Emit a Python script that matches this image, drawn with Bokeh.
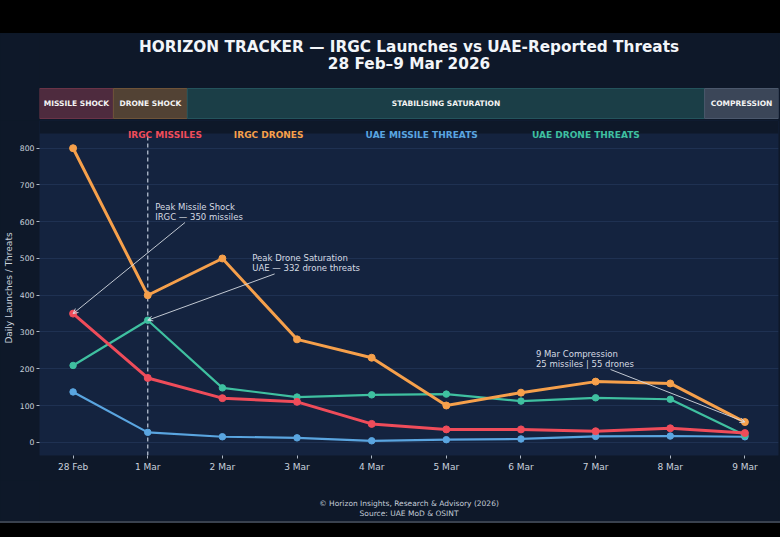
from bokeh.plotting import figure
from bokeh.models import Range1d, FixedTicker, Label, Arrow, OpenHead, Spacer, ColumnDataSource, BoxAnnotation
from bokeh.layouts import column
from bokeh.embed import file_html
from bokeh.resources import INLINE
from bokeh.core.properties import value

# ---------------- data ----------------
dates = ["28 Feb", "1 Mar", "2 Mar", "3 Mar", "4 Mar", "5 Mar", "6 Mar", "7 Mar", "8 Mar", "9 Mar"]
irgc_missiles = [350, 175, 120, 110, 50, 35, 35, 30, 38, 25]
irgc_drones = [800, 400, 500, 280, 230, 100, 135, 165, 160, 55]
uae_missile_threats = [137, 27, 15, 12, 4, 7, 9, 16, 17, 15]
uae_drone_threats = [209, 332, 148, 123, 129, 131, 112, 121, 117, 19]

phases = ["MISSILE SHOCK", "DRONE SHOCK", "STABILISING SATURATION", "COMPRESSION"]
phase_start = [0, 1, 2, 9]
phase_end = [1, 2, 9, 10]

peak_day = 1  # 1 Mar marker line
y_ticks = [0, 100, 200, 300, 400, 500, 600, 700, 800]

title_lines = ["HORIZON TRACKER \u2014 IRGC Launches vs UAE-Reported Threats", "28 Feb\u20139 Mar 2026"]
footer_lines = ["\u00a9 Horizon Insights, Research & Advisory (2026)", "Source: UAE MoD & OSINT"]

# ---------------- style ----------------
FONT = value("DejaVu Sans")
CARD = "#0e1829"
PLOT_BG = "#14233f"
GRID = "#1f3152"
TXT = "#c9d1dc"
RED = "#ef4c5a"
ORANGE = "#f6a04b"
BLUE = "#5aa5e0"
TEAL = "#3fc0a0"
phase_fill = ["#4e2b3e", "#524234", "#1b3e47", "#3b4658"]
phase_edge = ["#6a3447", "#6e5339", "#24535c", "#4b586c"]

W = 780
LEFT = 37
RIGHT = 2
Y_LO, Y_HI = -36, 840
TOP_STRIP = 13          # px of card colour above the plot area (legend row)
FRAME_H = 322
Y_TOP = Y_HI + (Y_HI - Y_LO) * TOP_STRIP / FRAME_H
X_LO, X_HI = -0.45, 9.45


def plain(fig):
    fig.axis.visible = False
    fig.grid.visible = False
    fig.outline_line_color = None
    fig.background_fill_color = CARD
    fig.border_fill_color = CARD


# ---------------- header (title + phase bands) ----------------
hdr = figure(width=W, height=87, x_range=Range1d(0, 10), y_range=Range1d(87, 0),
             output_backend="svg", toolbar_location=None,
             min_border_left=LEFT, min_border_right=RIGHT, min_border_top=0, min_border_bottom=0)
plain(hdr)

hdr.text(x=[5, 5], y=[13, 30], text=title_lines, text_align="center", text_baseline="middle",
         text_font=FONT, text_font_style="bold", text_font_size="15.3px", text_color="#f2f5f9")

band_src = ColumnDataSource(dict(left=phase_start, right=phase_end, name=phases,
                                 fill=phase_fill, edge=phase_edge,
                                 mid=[(a + b) / 2 for a, b in zip(phase_start, phase_end)]))
hdr.quad(left="left", right="right", top=55, bottom=85, source=band_src,
         fill_color="fill", line_color="edge", line_width=1)
hdr.text(x="mid", y=70, text="name", source=band_src, text_align="center", text_baseline="middle",
         text_font=FONT, text_font_style="bold", text_font_size="7.5px", text_color="#f4f4f4")

# ---------------- main chart ----------------
p = figure(width=W, height=360, x_range=Range1d(X_LO, X_HI), y_range=Range1d(Y_LO, Y_TOP),
           output_backend="svg", toolbar_location=None,
           min_border_left=LEFT, min_border_right=RIGHT, min_border_top=0, min_border_bottom=25)
p.background_fill_color = PLOT_BG
p.border_fill_color = CARD
p.outline_line_color = None
p.xgrid.visible = False
p.ygrid.grid_line_color = GRID
p.ygrid.grid_line_width = 1
p.ygrid.ticker = FixedTicker(ticks=y_ticks)

p.xaxis.ticker = FixedTicker(ticks=list(range(len(dates))))
p.xaxis.major_label_overrides = {i: d for i, d in enumerate(dates)}
p.yaxis.ticker = FixedTicker(ticks=y_ticks)
for ax in (p.xaxis[0], p.yaxis[0]):
    ax.axis_line_color = None
    ax.major_tick_line_color = "#aeb8c6"
    ax.major_tick_in = 0
    ax.major_tick_out = 3
    ax.minor_tick_line_color = None
    ax.major_label_text_color = TXT
    ax.major_label_text_font = "DejaVu Sans"
p.xaxis.major_label_text_font_size = "9px"
p.xaxis.major_label_standoff = 3
p.yaxis.major_label_text_font_size = "7.7px"
p.yaxis.major_label_standoff = 2
p.yaxis.axis_label = "Daily Launches / Threats"
p.yaxis.axis_label_text_font = "DejaVu Sans"
p.yaxis.axis_label_text_font_style = "normal"
p.yaxis.axis_label_text_font_size = "9px"
p.yaxis.axis_label_text_color = TXT
p.yaxis.axis_label_standoff = 3

# dashed marker at 1 Mar, limited to the plot area
p.segment(x0=[peak_day], x1=[peak_day], y0=[Y_LO], y1=[Y_HI], line_color="#a9b4c6",
          line_dash="4 3", line_width=1.4)

xs = list(range(len(dates)))
series = [
    (uae_missile_threats, BLUE, 2.2, 6.5),
    (uae_drone_threats, TEAL, 2.2, 6.5),
    (irgc_missiles, RED, 3, 7),
    (irgc_drones, ORANGE, 3, 7),
]
for ys, col, lw, ms in series:
    p.line(xs, ys, line_color=col, line_width=lw)
    p.scatter(xs, ys, size=ms, fill_color=col, line_color=col)

# card-coloured strip above the plot area (legend row)
p.add_layout(BoxAnnotation(bottom=Y_HI, fill_color=CARD, fill_alpha=1.0, line_color=None))

legend_items = [("IRGC MISSILES", RED, 1.23), ("IRGC DRONES", ORANGE, 2.62),
                ("UAE MISSILE THREATS", BLUE, 4.67), ("UAE DRONE THREATS", TEAL, 6.87)]
for txt, col, lx in legend_items:
    p.add_layout(Label(x=lx, y=836, text=txt, text_align="center", text_baseline="middle",
                       text_font="DejaVu Sans", text_font_style="bold", text_font_size="9px",
                       text_color=col))

ANN = "#d6dbe3"
annotations = [
    (1.1, 600, ["Peak Missile Shock", "IRGC \u2014 350 missiles"], 1.5, 0, irgc_missiles[0]),
    (2.4, 460, ["Peak Drone Saturation", "UAE \u2014 332 drone threats"], 2.7, 1, uae_drone_threats[1]),
    (6.2, 200, ["9 Mar Compression", "25 missiles | 55 drones"], 7.2, 9, irgc_drones[9]),
]
for tx, ty, lines, ax_, hx, hy in annotations:
    p.text(x=[tx, tx], y=[ty + 27.5, ty], text=lines, text_align="left", text_baseline="bottom",
           text_font=FONT, text_font_size="8.5px", text_color=ANN)
    p.add_layout(Arrow(x_start=ax_, y_start=ty - 2, x_end=hx, y_end=hy,
                       line_color=ANN, line_width=0.9,
                       end=OpenHead(size=5, line_color=ANN, line_width=0.9)))

# ---------------- footer ----------------
ftr = figure(width=W, height=41, x_range=Range1d(X_LO, X_HI), y_range=Range1d(41, 0),
             output_backend="svg", toolbar_location=None,
             min_border_left=LEFT, min_border_right=RIGHT, min_border_top=0, min_border_bottom=0)
plain(ftr)
fx = (X_LO + X_HI) / 2.0
ftr.text(x=[fx, fx], y=[22.7, 32.7], text=footer_lines, text_align="center", text_baseline="middle",
         text_font=FONT, text_font_size="7.5px", text_color="#c4ccd8")

card = column(hdr, p, ftr, styles={"background-color": CARD})
layout = column(Spacer(width=W, height=33),
                card,
                Spacer(width=W, height=2, styles={"background-color": "#39414e"}),
                styles={"background-color": "#000000"})

html = file_html(layout, INLINE)
html = html.replace("</head>",
                    "<style>html, body { background-color: #000000 !important; }</style></head>", 1)
open("out.html", "w").write(html)
